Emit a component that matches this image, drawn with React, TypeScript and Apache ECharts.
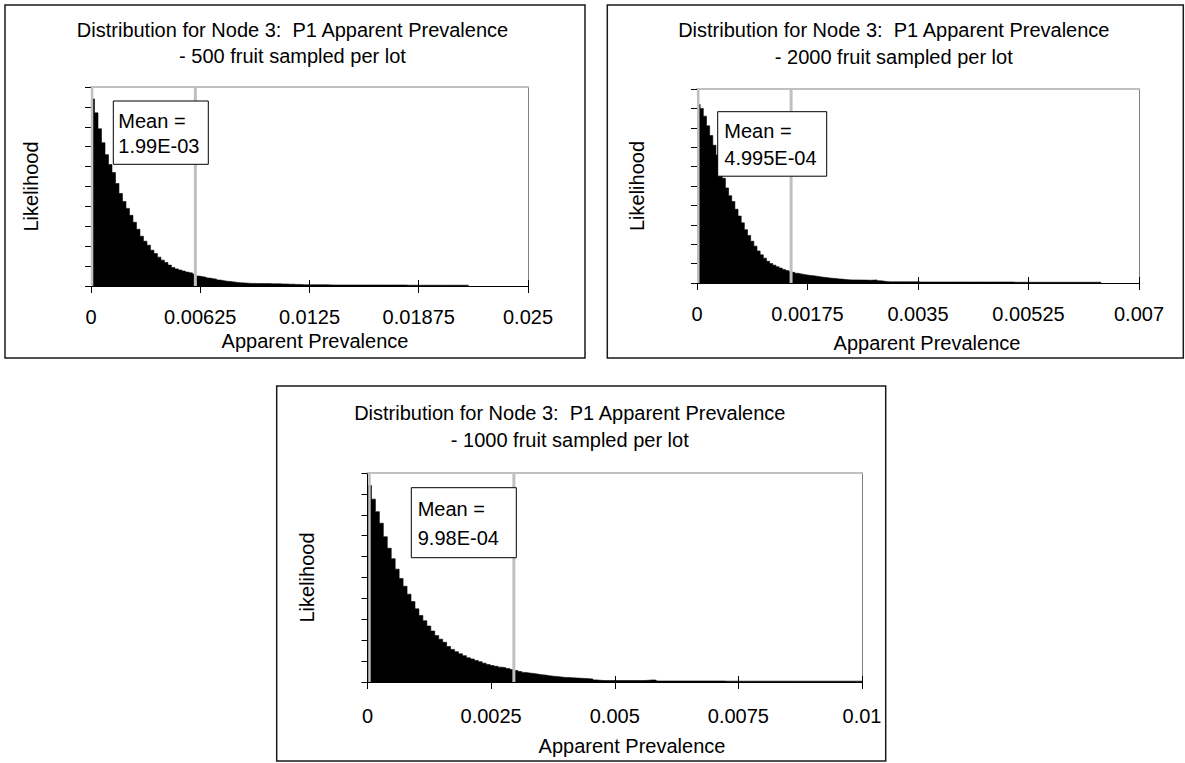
import React, { useEffect, useRef } from "react";
import * as echarts from "echarts";

const FONT = '"Liberation Sans", Arial, Helvetica, sans-serif';

// ---------- data ----------
const TITLE_LINE1 = "Distribution for Node 3:  P1 Apparent Prevalence";
const SAMPLE_SIZES = [500, 2000, 1000];
const MEAN_LABELS = ["1.99E-03", "4.995E-04", "9.98E-04"];
const X_TITLE = "Apparent Prevalence";
const Y_TITLE = "Likelihood";

const TICKS_500 = ["0", "0.00625", "0.0125", "0.01875", "0.025"];
const TICKS_2000 = ["0", "0.00175", "0.0035", "0.00525", "0.007"];
const TICKS_1000 = ["0", "0.0025", "0.005", "0.0075", "0.01"];

const BIN_500 = 0.0002;
const BIN_2000 = 0.00005;
const BIN_1000 = 0.00008;

const HIST_500 = [
  9.4, 8.7, 7.9, 7.2, 6.6, 6.1, 5.7, 5.15, 4.65, 4.25,
  3.9, 3.55, 3.2, 2.85, 2.5, 2.25, 2.05, 1.8, 1.63, 1.45,
  1.3, 1.18, 1.05, 0.93, 0.86, 0.8, 0.75, 0.7, 0.66, 0.6,
  0.5, 0.47, 0.44, 0.4, 0.37, 0.34, 0.3, 0.27, 0.24, 0.22,
  0.2, 0.18, 0.16, 0.15, 0.14, 0.13, 0.13, 0.12, 0.12, 0.12,
  0.12, 0.11, 0.11, 0.11, 0.1, 0.1, 0.09, 0.09, 0.08, 0.08,
  0.06, 0.06, 0.06, 0.06, 0.06, 0.06, 0.06, 0.06, 0.05, 0.05,
  0.05, 0.05, 0.05, 0.05, 0.05, 0.05, 0.05, 0.05, 0.05, 0.05,
  0.05, 0.05, 0.05, 0.05, 0.05, 0.05, 0.05, 0.05, 0.05, 0.05,
  0.04, 0.04, 0.04, 0.04, 0.04, 0.04, 0.04, 0.04, 0.04, 0.04,
  0.04, 0.04, 0.04, 0.04, 0.04, 0.04, 0.04, 0.04,
];

const HIST_2000 = [
  9.2, 9.0, 8.6, 8.1, 7.6, 7.1, 6.6, 5.9, 5.4, 4.9,
  4.5, 4.2, 3.8, 3.45, 3.1, 2.75, 2.45, 2.15, 1.9, 1.65,
  1.45, 1.28, 1.12, 1.0, 0.92, 0.84, 0.77, 0.7, 0.64, 0.6,
  0.55, 0.5, 0.47, 0.44, 0.41, 0.39, 0.37, 0.35, 0.32, 0.3,
  0.28, 0.26, 0.24, 0.23, 0.21, 0.2, 0.18, 0.17, 0.16, 0.16,
  0.155, 0.155, 0.15, 0.15, 0.14, 0.15, 0.16, 0.12, 0.1, 0.08,
  0.06, 0.06, 0.06, 0.06, 0.06, 0.06, 0.06, 0.06, 0.06, 0.06,
  0.05, 0.05, 0.05, 0.05, 0.05, 0.05, 0.05, 0.05, 0.05, 0.05,
  0.05, 0.05, 0.05, 0.05, 0.05, 0.05, 0.05, 0.05, 0.05, 0.05,
  0.05, 0.05, 0.05, 0.05, 0.05, 0.05, 0.05, 0.05, 0.05, 0.05,
  0.04, 0.04, 0.04, 0.04, 0.04, 0.04, 0.04, 0.04, 0.04, 0.04,
  0.04, 0.04, 0.04, 0.04, 0.04, 0.04, 0.04, 0.04, 0.04, 0.04,
  0.04, 0.04, 0.04, 0.04, 0.04, 0.04, 0.04, 0.04,
];

const HIST_1000 = [
  9.4, 8.75, 8.15, 7.6, 6.95, 6.4, 5.9, 5.4, 4.95, 4.58,
  4.2, 3.85, 3.5, 3.18, 2.93, 2.68, 2.44, 2.22, 2.05, 1.9,
  1.7, 1.56, 1.45, 1.35, 1.26, 1.16, 1.1, 1.03, 0.97, 0.9,
  0.84, 0.79, 0.75, 0.71, 0.68, 0.64, 0.6, 0.55, 0.5, 0.46,
  0.43, 0.41, 0.38, 0.35, 0.33, 0.3, 0.28, 0.26, 0.24, 0.22,
  0.21, 0.2, 0.19, 0.18, 0.17, 0.16, 0.14, 0.1, 0.08, 0.07,
  0.07, 0.07, 0.07, 0.07, 0.07, 0.07, 0.07, 0.07, 0.07, 0.07,
  0.08, 0.1, 0.09, 0.05, 0.05, 0.05, 0.05, 0.05, 0.05, 0.05,
  0.05, 0.05, 0.05, 0.05, 0.05, 0.05, 0.05, 0.05, 0.05, 0.05,
  0.04, 0.04, 0.04, 0.04, 0.04, 0.04, 0.04, 0.04, 0.04, 0.04,
  0.04, 0.04, 0.04, 0.04, 0.04, 0.04, 0.04, 0.04, 0.04, 0.04,
  0.04, 0.04, 0.04, 0.04, 0.04, 0.04, 0.04, 0.04, 0.04, 0.04,
  0.04, 0.04, 0.04, 0.04, 0.04,
];

// 5% / 95% delimiter positions
const DELIM_500 = [0.00006, 0.00597];
const DELIM_2000 = [0.00002, 0.00149];
const DELIM_1000 = [0.00004, 0.00296];

// ---------- layout (pixels) ----------
const LAYOUT = [
  {
    grid: { left: 91, top: 87, width: 437, height: 199 },
    frame: { x: 5, y: 5, w: 580, h: 353 },
    titleX: 292.5, titleY: [29.7, 56.3],
    xTitle: [315, 341.3], yTitle: [31, 186.5],
    box: { x: 113.3, y: 101, w: 95, h: 63.3, tx: 118.3, ty: [120.8, 146.3] },
    labelMargin: 21,
  },
  {
    grid: { left: 697, top: 89, width: 442, height: 194 },
    frame: { x: 607.3, y: 5, w: 576, h: 353 },
    titleX: 893.8, titleY: [30.3, 57],
    xTitle: [927, 343], yTitle: [636.5, 186],
    box: { x: 717.7, y: 111.7, w: 109, h: 64.5, tx: 724.3, ty: [131.3, 158] },
    labelMargin: 21,
  },
  {
    grid: { left: 367.5, top: 473, width: 494.5, height: 209 },
    frame: { x: 276.7, y: 386, w: 609, h: 375 },
    titleX: 569.8, titleY: [413, 439.7],
    xTitle: [632, 746], yTitle: [306.5, 577.5],
    box: { x: 411.3, y: 487.7, w: 105, h: 70, tx: 417.7, ty: [509, 538] },
    labelMargin: 24,
  },
];

const PANELS = [
  { hist: HIST_500, bin: BIN_500, ticks: TICKS_500, delim: DELIM_500 },
  { hist: HIST_2000, bin: BIN_2000, ticks: TICKS_2000, delim: DELIM_2000 },
  { hist: HIST_1000, bin: BIN_1000, ticks: TICKS_1000, delim: DELIM_1000 },
];

function buildOption() {
  const grid: any[] = [];
  const xAxis: any[] = [];
  const yAxis: any[] = [];
  const series: any[] = [];
  const graphic: any[] = [];

  PANELS.forEach((p, i) => {
    const L = LAYOUT[i];
    const xMax = Number(p.ticks[p.ticks.length - 1]);
    const interval = Number(p.ticks[1]);
    grid.push({ ...L.grid, show: false, containLabel: false });

    const labelFmt = (v: number) => {
      const t = p.ticks.find((s) => Math.abs(Number(s) - v) < xMax * 1e-6);
      return t === undefined ? "" : t;
    };

    xAxis.push({
      type: "value", gridIndex: i, min: 0, max: xMax, interval,
      position: "bottom",
      axisLine: { show: true, onZero: false, lineStyle: { color: "#000", width: 1 } },
      axisTick: { show: true, inside: false, length: 7, lineStyle: { color: "#000" } },
      axisLabel: {
        show: true, formatter: labelFmt, color: "#000", fontSize: 20,
        fontFamily: FONT, margin: L.labelMargin,
      },
      splitLine: { show: false },
    });
    xAxis.push({
      type: "value", gridIndex: i, min: 0, max: xMax, interval,
      position: "bottom",
      axisLine: { show: false, onZero: false },
      axisTick: { show: true, inside: true, length: 6, lineStyle: { color: "#000" } },
      axisLabel: { show: false },
      splitLine: { show: false },
    });
    xAxis.push({
      type: "value", gridIndex: i, min: 0, max: xMax,
      position: "top",
      axisLine: { show: true, onZero: false, lineStyle: { color: "#c0c0c0", width: 2 } },
      axisTick: { show: false },
      axisLabel: { show: false },
      splitLine: { show: false },
    });

    yAxis.push({
      type: "value", gridIndex: i, min: 0, max: 10, interval: 1,
      position: "left",
      axisLine: { show: true, onZero: false, lineStyle: { color: "#000", width: 1 } },
      axisTick: { show: true, inside: false, length: 6, lineStyle: { color: "#000" } },
      axisLabel: { show: false },
      splitLine: { show: false },
    });
    yAxis.push({
      type: "value", gridIndex: i, min: 0, max: 10,
      position: "right",
      axisLine: { show: true, onZero: false, lineStyle: { color: "#808080", width: 1 } },
      axisTick: { show: false },
      axisLabel: { show: false },
      splitLine: { show: false },
    });

    const pts: number[][] = p.hist.map((h, k) => [k * p.bin, h]);
    pts.push([p.hist.length * p.bin, p.hist[p.hist.length - 1]]);

    series.push({
      type: "line",
      xAxisIndex: i * 3,
      yAxisIndex: i * 2,
      data: pts,
      step: "end",
      showSymbol: false,
      symbol: "none",
      silent: true,
      lineStyle: { color: "#000", width: 0.6 },
      areaStyle: { color: "#000", opacity: 1 },
      z: 2,
    });

    p.delim.forEach((d, k) => {
      series.push({
        type: "line",
        xAxisIndex: i * 3,
        yAxisIndex: i * 2,
        data: [[d, 0], [d, 10]],
        showSymbol: false,
        symbol: "none",
        silent: true,
        lineStyle: { color: "#c0c0c0", width: k === 0 ? 2.5 : 3 },
        z: 3,
      });
    });

    const txt = (text: string, x: number, y: number, align = "center", rotation = 0) => ({
      type: "text", x, y, rotation, z: 60,
      style: {
        text, fill: "#000", fontSize: 20, fontFamily: FONT,
        align, verticalAlign: "middle",
      },
    });

    graphic.push({
      type: "rect", z: 40,
      shape: { x: L.frame.x, y: L.frame.y, width: L.frame.w, height: L.frame.h },
      style: { fill: "none", stroke: "#1a1a1a", lineWidth: 1.5 },
    });
    graphic.push(txt(TITLE_LINE1, L.titleX, L.titleY[0]));
    graphic.push(txt(`- ${SAMPLE_SIZES[i]} fruit sampled per lot`, L.titleX, L.titleY[1]));
    graphic.push(txt(X_TITLE, L.xTitle[0], L.xTitle[1]));
    graphic.push(txt(Y_TITLE, L.yTitle[0], L.yTitle[1], "center", Math.PI / 2));
    graphic.push({
      type: "rect", z: 50,
      shape: { x: L.box.x, y: L.box.y, width: L.box.w, height: L.box.h },
      style: { fill: "#fff", stroke: "#000", lineWidth: 1 },
    });
    graphic.push(txt("Mean =", L.box.tx, L.box.ty[0], "left"));
    graphic.push(txt(MEAN_LABELS[i], L.box.tx, L.box.ty[1], "left"));
  });

  return {
    animation: false,
    backgroundColor: "#fff",
    grid,
    xAxis,
    yAxis,
    series,
    graphic: { elements: graphic },
  };
}

export default function App() {
  const ref = useRef<HTMLDivElement>(null);
  useEffect(() => {
    if (!ref.current) return;
    const chart = echarts.init(ref.current, undefined, { renderer: "svg" });
    chart.setOption(buildOption() as any);
    return () => chart.dispose();
  }, []);
  return (
    <div
      ref={ref}
      style={{ position: "fixed", left: 0, top: 0, width: 1185, height: 763, background: "#fff" }}
    />
  );
}
